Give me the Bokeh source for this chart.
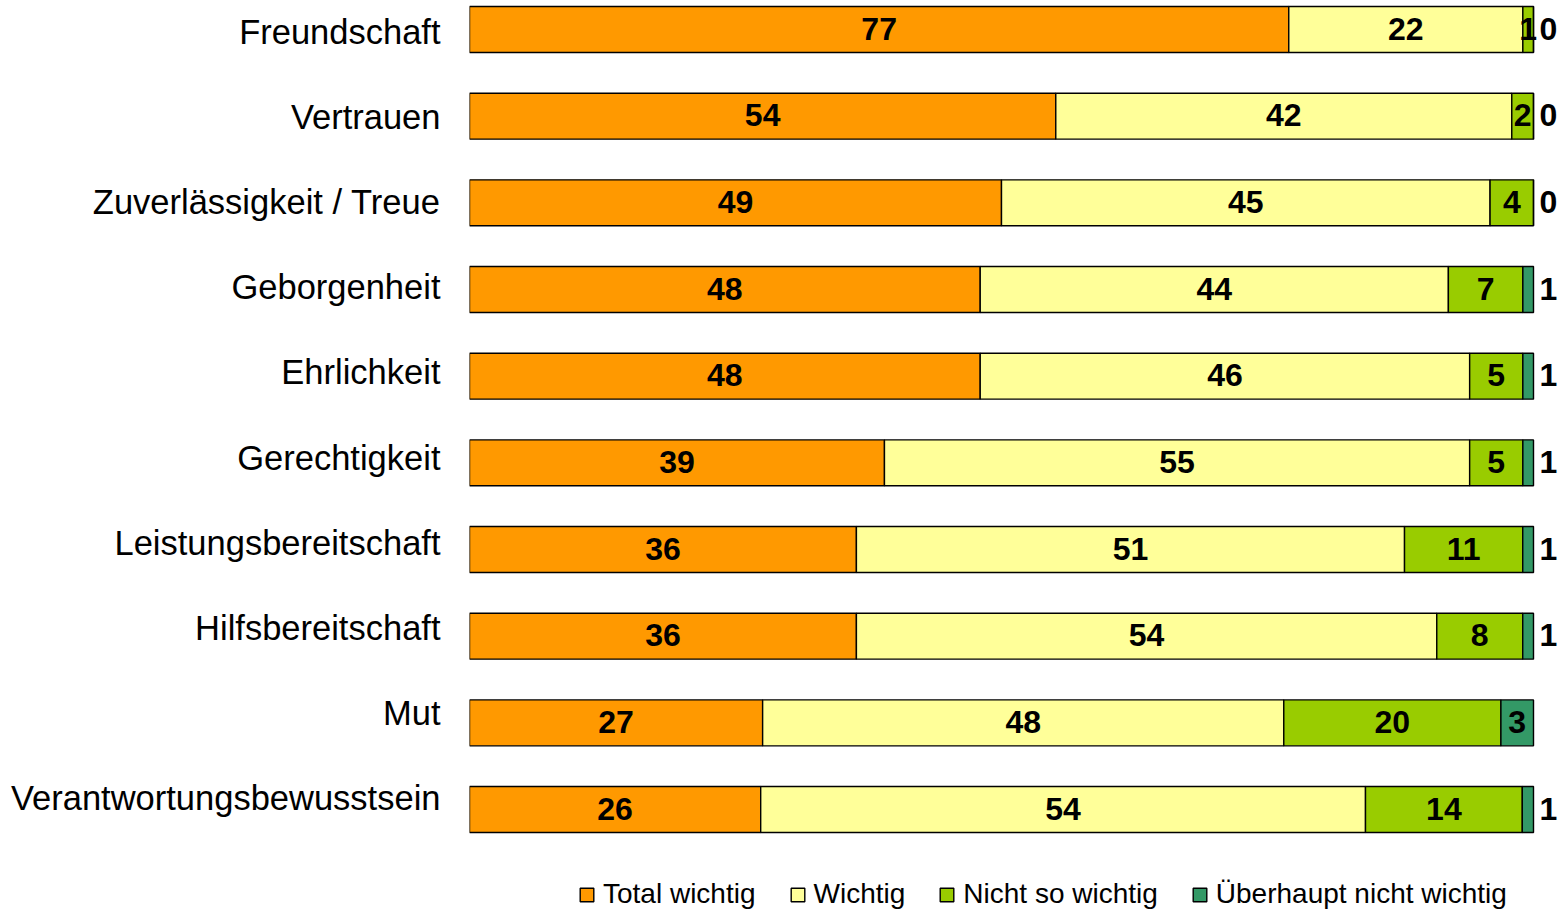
from bokeh.plotting import figure
from bokeh.models import (Range1d, LinearAxis, FixedTicker, ColumnDataSource,
                          LabelSet, Legend, LegendItem)
from bokeh.core.properties import value
from bokeh.embed import file_html
from bokeh.resources import INLINE

# ---------------- data ----------------
categories = ["Freundschaft", "Vertrauen", "Zuverlässigkeit / Treue", "Geborgenheit",
              "Ehrlichkeit", "Gerechtigkeit", "Leistungsbereitschaft",
              "Hilfsbereitschaft", "Mut", "Verantwortungsbewusstsein"]
series_names = ["Total wichtig", "Wichtig", "Nicht so wichtig", "Überhaupt nicht wichtig"]
total_wichtig = [77, 54, 49, 48, 48, 39, 36, 36, 27, 26]
wichtig = [22, 42, 45, 44, 46, 55, 51, 54, 48, 54]
nicht_so_wichtig = [1, 2, 4, 7, 5, 5, 11, 8, 20, 14]
ueberhaupt_nicht = [0, 0, 0, 1, 1, 1, 1, 1, 3, 1]
colors = ["#FF9900", "#FFFF99", "#99CC00", "#339966"]

series = [total_wichtig, wichtig, nicht_so_wichtig, ueberhaupt_nicht]

# ---------------- layout constants (pixels) ----------------
W, H = 1562, 910
LEFT = 469                     # frame left inside figure
X_PER_PCT = 10.64              # px per percent
ROW0, STEP = 29, 86.67         # bar rows: first center, spacing
LROW0, LSTEP = 31, 85.2        # category label rows

frame_w = W - LEFT
x_end = frame_w / X_PER_PCT
y_top = -ROW0 / STEP
y_bot = (H - ROW0) / STEP
ly_top = -LROW0 / LSTEP
ly_bot = (H - LROW0) / LSTEP

FONT = "Liberation Sans"

p = figure(width=W, height=H, x_range=Range1d(0, x_end), y_range=Range1d(y_bot, y_top),
           output_backend="svg", toolbar_location=None,
           x_axis_location=None, y_axis_location=None,
           min_border_left=LEFT, min_border_right=0, min_border_top=0, min_border_bottom=0,
           outline_line_color=None, background_fill_color="white")
p.grid.visible = False
p.extra_y_ranges = {"labels": Range1d(ly_bot, ly_top)}

n = len(categories)
ys = list(range(n))
totals = [sum(s[i] for s in series) for i in range(n)]

renderers = []
lefts = [0.0] * n
center_lab = dict(x=[], y=[], t=[])
out_lab = dict(x=[], y=[], t=[])
for j, s in enumerate(series):
    shares = [100.0 * s[i] / totals[i] for i in range(n)]
    rights = [lefts[i] + shares[i] for i in range(n)]
    src = ColumnDataSource(dict(y=ys, left=lefts, right=rights))
    r = p.hbar(y="y", left="left", right="right", height=0.53, source=src,
               fill_color=colors[j], line_color="black", line_width=1.4)
    renderers.append(r)
    for i in range(n):
        if j == len(series) - 1 and s[i] <= 1:
            out_lab["x"].append(100.0)
            out_lab["y"].append(ys[i])
            out_lab["t"].append(str(s[i]))
        else:
            center_lab["x"].append((lefts[i] + rights[i]) / 2)
            center_lab["y"].append(ys[i])
            center_lab["t"].append(str(s[i]))
    lefts = rights

common = dict(text_font=value(FONT), text_font_size="32px", text_font_style="bold",
              text_color="black", text_baseline="middle")
p.add_layout(LabelSet(x="x", y="y", text="t", source=ColumnDataSource(center_lab),
                      text_align="center", y_offset=1, **common))
p.add_layout(LabelSet(x="x", y="y", text="t", source=ColumnDataSource(out_lab),
                      text_align="left", x_offset=6, y_offset=1, **common))

ax = LinearAxis(y_range_name="labels", ticker=FixedTicker(ticks=ys),
                major_label_overrides={i: c for i, c in enumerate(categories)},
                axis_line_color=None, major_tick_line_color=None, minor_tick_line_color=None,
                major_tick_out=0, major_tick_in=0, major_label_standoff=29,
                major_label_text_font=FONT, major_label_text_font_size="34.5px",
                major_label_text_color="black")
p.add_layout(ax, "left")

legend = Legend(items=[LegendItem(label=series_names[j], renderers=[renderers[j]])
                       for j in range(len(series))],
                orientation="horizontal", location=(109, 0),
                glyph_width=17, glyph_height=17, label_standoff=8, spacing=33,
                padding=0, margin=0, border_line_color=None, background_fill_alpha=0,
                label_text_font=FONT, label_text_font_size="28px",
                label_text_color="black")
p.add_layout(legend)

open("out.html", "w").write(file_html(p, INLINE))
